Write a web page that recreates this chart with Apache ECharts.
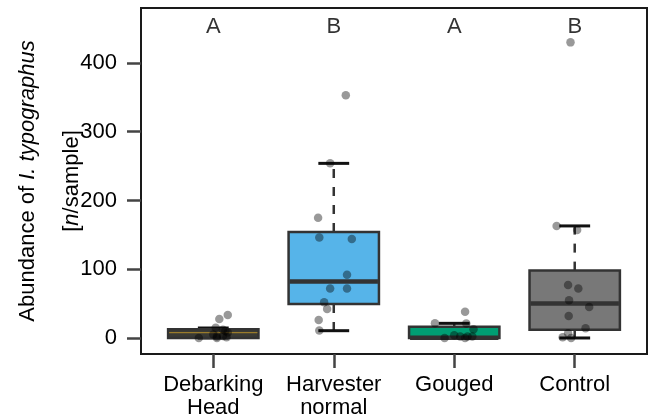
<!DOCTYPE html>
<html>
<head>
<meta charset="utf-8">
<script src="https://cdn.jsdelivr.net/npm/echarts@6/dist/echarts.min.js"></script>
<style>html,body{margin:0;padding:0;background:#fff}#c{width:651px;height:420px}</style>
</head>
<body>
<div id="c"></div>
<script>
// Categories and group letters
const categories = ['Debarking\nHead', 'Harvester\nnormal', 'Gouged', 'Control'];
const groupLetters = ['A', 'B', 'A', 'B'];
// Box statistics: [lowWhisker, Q1, median, Q3, highWhisker]
const boxStats = [
  [0, 0, 7.7, 12.6, 14.5],
  [10.6, 49.5, 82, 154, 254],
  [0, 0, 0.5, 16.5, 21.3],
  [0, 12, 50, 98, 163]
];
// Individual observations (value) with horizontal jitter (category units)
const debarkingVals   = [33.5, 27.6, 15, 12, 10, 8, 5, 3, 2, 1, 0, 0];
const debarkingJitter = [0.12, 0.05, 0.02, 0.08, 0.1, 0.12, 0.0, 0.08, 0.03, 0.11, -0.12, 0.03];
const harvesterVals   = [353, 254, 175, 146, 144, 92, 72, 72, 52, 42, 26, 11];
const harvesterJitter = [0.1, -0.03, -0.13, -0.12, 0.15, 0.11, -0.03, 0.11, -0.08, -0.055, -0.125, -0.12];
const gougedVals      = [38, 21.3, 21, 12.6, 4, 2, 2, 2, 0, 0];
const gougedJitter    = [0.09, -0.16, 0.1, 0.16, 0.0, 0.05, 0.11, 0.15, -0.08, 0.09];
const controlVals     = [430, 163, 157, 77, 72, 55, 45, 32, 14, 7, 1, 0];
const controlJitter   = [-0.035, -0.15, 0.02, -0.055, 0.03, -0.047, 0.12, -0.05, 0.09, -0.055, -0.1, -0.03];
const yTicks = [0, 100, 200, 300, 400];
const yTitleLine1 = '{a|Abundance of }{i|I. typographus}';
const yTitleLine2 = '{a|[}{i|n}{a|/sample]}';

const boxFills = ['#3a3a34', '#56B4E9', '#009E73', '#787878'];
const medianColors = ['#B08A2A', '#333333', '#333333', '#333333'];

const pointSets = [
  [debarkingVals, debarkingJitter],
  [harvesterVals, harvesterJitter],
  [gougedVals, gougedJitter],
  [controlVals, controlJitter]
];
const pointData = [];
pointSets.forEach((s, i) => s[0].forEach((v, j) => pointData.push([i + 1 + s[1][j], v])));

const boxData = boxStats.map((s, i) => [i + 1].concat(s).concat([i]));
const letterData = groupLetters.map((l, i) => [i + 1, 452, l]);

const HW = 0.375, CW = 0.128;
function renderBox(params, api) {
  const x = api.value(0), lo = api.value(1), q1 = api.value(2), med = api.value(3),
        q3 = api.value(4), hi = api.value(5), idx = api.value(6);
  const c = (a, b) => api.coord([a, b]);
  const tl = c(x - HW, q3), br = c(x + HW, q1);
  const ml = c(x - HW, med), mr = c(x + HW, med);
  const dash = {stroke: '#333', lineWidth: 2.5, lineDash: [9, 9]};
  const solid = {stroke: '#111', lineWidth: 3};
  return {
    type: 'group',
    children: [
      {type: 'line', shape: {x1: c(x, q3)[0], y1: c(x, q3)[1], x2: c(x, hi)[0], y2: c(x, hi)[1]}, style: dash},
      {type: 'line', shape: {x1: c(x, q1)[0], y1: c(x, q1)[1], x2: c(x, lo)[0], y2: c(x, lo)[1]}, style: dash},
      {type: 'line', shape: {x1: c(x - CW, hi)[0], y1: c(x, hi)[1], x2: c(x + CW, hi)[0], y2: c(x, hi)[1]}, style: solid},
      {type: 'line', shape: {x1: c(x - CW, lo)[0], y1: c(x, lo)[1], x2: c(x + CW, lo)[0], y2: c(x, lo)[1]}, style: solid},
      {type: 'rect', shape: {x: tl[0], y: tl[1], width: br[0] - tl[0], height: br[1] - tl[1]},
        style: {fill: boxFills[idx], stroke: '#333', lineWidth: 2.5}},
      {type: 'line', shape: {x1: ml[0] + 1, y1: ml[1], x2: mr[0] - 1, y2: mr[1]},
        style: {stroke: medianColors[idx], lineWidth: idx === 0 ? 1 : 4.5}}
    ]
  };
}

const FONT = 'Liberation Sans, Arial, sans-serif';
const richStyles = {
  a: {fontSize: 22, color: '#000', fontFamily: FONT},
  i: {fontSize: 22, color: '#000', fontStyle: 'italic', fontFamily: FONT}
};
const chart = echarts.init(document.getElementById('c'), null, {renderer: 'canvas'});
chart.setOption({
  animation: false,
  backgroundColor: '#fff',
  grid: {left: 141, right: 4, top: 8, bottom: 66, show: true, borderColor: '#1a1a1a', borderWidth: 2,
    containLabel: false, outerBoundsMode: 'none'},
  xAxis: {
    type: 'value', min: 0.4, max: 4.6,
    splitLine: {show: false},
    axisLine: {show: true, onZero: false, lineStyle: {color: '#1a1a1a', width: 2}},
    axisTick: {show: true, length: 14, customValues: [1, 2, 3, 4], lineStyle: {color: '#444', width: 2.5}},
    axisLabel: {
      customValues: [1, 2, 3, 4],
      formatter: v => categories[Math.round(v) - 1],
      color: '#000', fontSize: 22, fontFamily: FONT,
      lineHeight: 23, margin: 19
    }
  },
  yAxis: {
    type: 'value', min: -23.3, max: 480,
    splitLine: {show: false},
    axisLine: {show: true, onZero: false, lineStyle: {color: '#1a1a1a', width: 2}},
    axisTick: {show: true, length: 14, customValues: yTicks, lineStyle: {color: '#444', width: 2.5}},
    axisLabel: {
      customValues: yTicks,
      color: '#000', fontSize: 22, fontFamily: FONT, margin: 24
    }
  },
  graphic: [
    {type: 'text', x: 28, y: 181, rotation: Math.PI / 2,
      style: {text: yTitleLine1, rich: richStyles, align: 'center', verticalAlign: 'middle'}},
    {type: 'text', x: 72, y: 181, rotation: Math.PI / 2,
      style: {text: yTitleLine2, rich: richStyles, align: 'center', verticalAlign: 'middle'}}
  ],
  series: [
    {type: 'custom', renderItem: renderBox, data: boxData, z: 2, clip: false},
    {type: 'scatter', data: pointData, symbolSize: 8.5, z: 3,
      itemStyle: {color: 'rgba(0,0,0,0.5)'}},
    {type: 'scatter', data: letterData, symbolSize: 0, z: 4,
      label: {show: true, position: 'inside', formatter: p => p.value[2], fontSize: 22,
        color: '#000', fontFamily: FONT}}
  ]
});
</script>
</body>
</html>
